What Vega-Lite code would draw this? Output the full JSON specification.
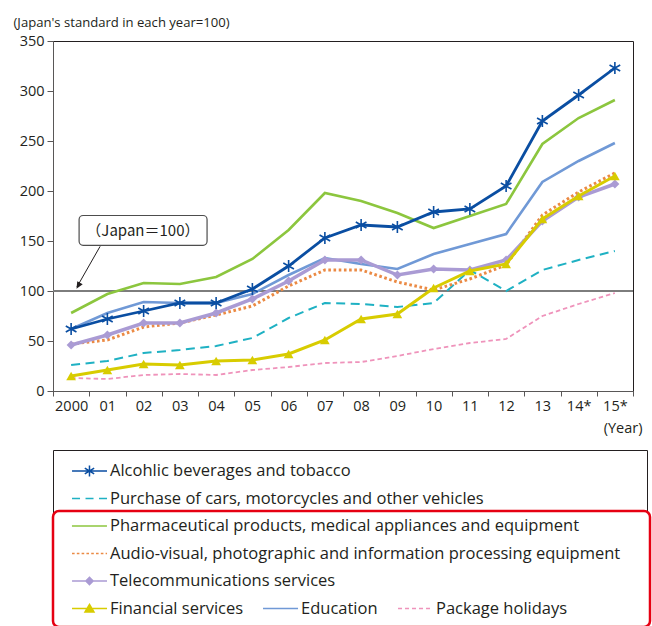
{
  "$schema": "https://vega.github.io/schema/vega-lite/v6.json",
  "width": 580,
  "height": 350,
  "autosize": {"type": "none"},
  "padding": {"left": 53, "top": 41, "right": 19, "bottom": 235},
  "config": {
    "font": "Open Sans",
    "view": {"stroke": "#231f20", "strokeWidth": 1},
    "axis": {"labelFont": "Open Sans", "labelFontSize": 14.5, "labelColor": "#231f20", "titleFont": "Open Sans", "titleColor": "#231f20", "titleFontWeight": "normal", "grid": false, "domainColor": "#595757", "tickColor": "#595757"},
    "legend": {"orient": "none", "padding": 0, "labelFont": "Open Sans", "labelFontSize": 16.5, "labelColor": "#231f20", "labelOffset": 26, "labelLimit": 800, "symbolSize": 324, "symbolType": "M-0.22,0H3.67"}
  },
  "datasets": {
    "alc": [
      {"s": "Alcohlic beverages and tobacco", "t": "2000", "v": 62}, {"s": "Alcohlic beverages and tobacco", "t": "01", "v": 72}, {"s": "Alcohlic beverages and tobacco", "t": "02", "v": 80}, {"s": "Alcohlic beverages and tobacco", "t": "03", "v": 88}, {"s": "Alcohlic beverages and tobacco", "t": "04", "v": 88}, {"s": "Alcohlic beverages and tobacco", "t": "05", "v": 102}, {"s": "Alcohlic beverages and tobacco", "t": "06", "v": 125}, {"s": "Alcohlic beverages and tobacco", "t": "07", "v": 153}, {"s": "Alcohlic beverages and tobacco", "t": "08", "v": 166}, {"s": "Alcohlic beverages and tobacco", "t": "09", "v": 164}, {"s": "Alcohlic beverages and tobacco", "t": "10", "v": 179}, {"s": "Alcohlic beverages and tobacco", "t": "11", "v": 182}, {"s": "Alcohlic beverages and tobacco", "t": "12", "v": 205}, {"s": "Alcohlic beverages and tobacco", "t": "13", "v": 270}, {"s": "Alcohlic beverages and tobacco", "t": "14*", "v": 296}, {"s": "Alcohlic beverages and tobacco", "t": "15*", "v": 323}
    ],
    "car": [
      {"s": "Purchase of cars, motorcycles and other vehicles", "t": "2000", "v": 26}, {"s": "Purchase of cars, motorcycles and other vehicles", "t": "01", "v": 30}, {"s": "Purchase of cars, motorcycles and other vehicles", "t": "02", "v": 38}, {"s": "Purchase of cars, motorcycles and other vehicles", "t": "03", "v": 41}, {"s": "Purchase of cars, motorcycles and other vehicles", "t": "04", "v": 45}, {"s": "Purchase of cars, motorcycles and other vehicles", "t": "05", "v": 53}, {"s": "Purchase of cars, motorcycles and other vehicles", "t": "06", "v": 73}, {"s": "Purchase of cars, motorcycles and other vehicles", "t": "07", "v": 88}, {"s": "Purchase of cars, motorcycles and other vehicles", "t": "08", "v": 87}, {"s": "Purchase of cars, motorcycles and other vehicles", "t": "09", "v": 84}, {"s": "Purchase of cars, motorcycles and other vehicles", "t": "10", "v": 88}, {"s": "Purchase of cars, motorcycles and other vehicles", "t": "11", "v": 121}, {"s": "Purchase of cars, motorcycles and other vehicles", "t": "12", "v": 100}, {"s": "Purchase of cars, motorcycles and other vehicles", "t": "13", "v": 121}, {"s": "Purchase of cars, motorcycles and other vehicles", "t": "14*", "v": 131}, {"s": "Purchase of cars, motorcycles and other vehicles", "t": "15*", "v": 140}
    ],
    "pha": [
      {"s": "Pharmaceutical products, medical appliances and equipment", "t": "2000", "v": 78}, {"s": "Pharmaceutical products, medical appliances and equipment", "t": "01", "v": 97}, {"s": "Pharmaceutical products, medical appliances and equipment", "t": "02", "v": 108}, {"s": "Pharmaceutical products, medical appliances and equipment", "t": "03", "v": 107}, {"s": "Pharmaceutical products, medical appliances and equipment", "t": "04", "v": 114}, {"s": "Pharmaceutical products, medical appliances and equipment", "t": "05", "v": 132}, {"s": "Pharmaceutical products, medical appliances and equipment", "t": "06", "v": 161}, {"s": "Pharmaceutical products, medical appliances and equipment", "t": "07", "v": 198}, {"s": "Pharmaceutical products, medical appliances and equipment", "t": "08", "v": 190}, {"s": "Pharmaceutical products, medical appliances and equipment", "t": "09", "v": 178}, {"s": "Pharmaceutical products, medical appliances and equipment", "t": "10", "v": 163}, {"s": "Pharmaceutical products, medical appliances and equipment", "t": "11", "v": 175}, {"s": "Pharmaceutical products, medical appliances and equipment", "t": "12", "v": 187}, {"s": "Pharmaceutical products, medical appliances and equipment", "t": "13", "v": 247}, {"s": "Pharmaceutical products, medical appliances and equipment", "t": "14*", "v": 273}, {"s": "Pharmaceutical products, medical appliances and equipment", "t": "15*", "v": 291}
    ],
    "aud": [
      {"s": "Audio-visual, photographic and information processing equipment", "t": "2000", "v": 47}, {"s": "Audio-visual, photographic and information processing equipment", "t": "01", "v": 51}, {"s": "Audio-visual, photographic and information processing equipment", "t": "02", "v": 64}, {"s": "Audio-visual, photographic and information processing equipment", "t": "03", "v": 68}, {"s": "Audio-visual, photographic and information processing equipment", "t": "04", "v": 76}, {"s": "Audio-visual, photographic and information processing equipment", "t": "05", "v": 85}, {"s": "Audio-visual, photographic and information processing equipment", "t": "06", "v": 105}, {"s": "Audio-visual, photographic and information processing equipment", "t": "07", "v": 121}, {"s": "Audio-visual, photographic and information processing equipment", "t": "08", "v": 121}, {"s": "Audio-visual, photographic and information processing equipment", "t": "09", "v": 109}, {"s": "Audio-visual, photographic and information processing equipment", "t": "10", "v": 101}, {"s": "Audio-visual, photographic and information processing equipment", "t": "11", "v": 112}, {"s": "Audio-visual, photographic and information processing equipment", "t": "12", "v": 126}, {"s": "Audio-visual, photographic and information processing equipment", "t": "13", "v": 176}, {"s": "Audio-visual, photographic and information processing equipment", "t": "14*", "v": 199}, {"s": "Audio-visual, photographic and information processing equipment", "t": "15*", "v": 218}
    ],
    "tel": [
      {"s": "Telecommunications services", "t": "2000", "v": 46}, {"s": "Telecommunications services", "t": "01", "v": 56}, {"s": "Telecommunications services", "t": "02", "v": 68}, {"s": "Telecommunications services", "t": "03", "v": 68}, {"s": "Telecommunications services", "t": "04", "v": 78}, {"s": "Telecommunications services", "t": "05", "v": 92}, {"s": "Telecommunications services", "t": "06", "v": 110}, {"s": "Telecommunications services", "t": "07", "v": 131}, {"s": "Telecommunications services", "t": "08", "v": 131}, {"s": "Telecommunications services", "t": "09", "v": 116}, {"s": "Telecommunications services", "t": "10", "v": 122}, {"s": "Telecommunications services", "t": "11", "v": 121}, {"s": "Telecommunications services", "t": "12", "v": 131}, {"s": "Telecommunications services", "t": "13", "v": 170}, {"s": "Telecommunications services", "t": "14*", "v": 194}, {"s": "Telecommunications services", "t": "15*", "v": 207}
    ],
    "fin": [
      {"s": "Financial services", "t": "2000", "v": 15}, {"s": "Financial services", "t": "01", "v": 21}, {"s": "Financial services", "t": "02", "v": 27}, {"s": "Financial services", "t": "03", "v": 26}, {"s": "Financial services", "t": "04", "v": 30}, {"s": "Financial services", "t": "05", "v": 31}, {"s": "Financial services", "t": "06", "v": 37}, {"s": "Financial services", "t": "07", "v": 51}, {"s": "Financial services", "t": "08", "v": 72}, {"s": "Financial services", "t": "09", "v": 77}, {"s": "Financial services", "t": "10", "v": 103}, {"s": "Financial services", "t": "11", "v": 120}, {"s": "Financial services", "t": "12", "v": 127}, {"s": "Financial services", "t": "13", "v": 172}, {"s": "Financial services", "t": "14*", "v": 195}, {"s": "Financial services", "t": "15*", "v": 215}
    ],
    "edu": [
      {"s": "Education", "t": "2000", "v": 62}, {"s": "Education", "t": "01", "v": 78}, {"s": "Education", "t": "02", "v": 89}, {"s": "Education", "t": "03", "v": 88}, {"s": "Education", "t": "04", "v": 88}, {"s": "Education", "t": "05", "v": 97}, {"s": "Education", "t": "06", "v": 116}, {"s": "Education", "t": "07", "v": 133}, {"s": "Education", "t": "08", "v": 127}, {"s": "Education", "t": "09", "v": 122}, {"s": "Education", "t": "10", "v": 137}, {"s": "Education", "t": "11", "v": 147}, {"s": "Education", "t": "12", "v": 157}, {"s": "Education", "t": "13", "v": 209}, {"s": "Education", "t": "14*", "v": 230}, {"s": "Education", "t": "15*", "v": 248}
    ],
    "pkg": [
      {"s": "Package holidays", "t": "2000", "v": 13}, {"s": "Package holidays", "t": "01", "v": 12}, {"s": "Package holidays", "t": "02", "v": 16}, {"s": "Package holidays", "t": "03", "v": 17}, {"s": "Package holidays", "t": "04", "v": 16}, {"s": "Package holidays", "t": "05", "v": 21}, {"s": "Package holidays", "t": "06", "v": 24}, {"s": "Package holidays", "t": "07", "v": 28}, {"s": "Package holidays", "t": "08", "v": 29}, {"s": "Package holidays", "t": "09", "v": 35}, {"s": "Package holidays", "t": "10", "v": 42}, {"s": "Package holidays", "t": "11", "v": 48}, {"s": "Package holidays", "t": "12", "v": 52}, {"s": "Package holidays", "t": "13", "v": 75}, {"s": "Package holidays", "t": "14*", "v": 87}, {"s": "Package holidays", "t": "15*", "v": 98}
    ]
  },
  "layer": [
    {
      "data": {"values": [{"ref": 100}]},
      "mark": {"type": "rule", "color": "#7d7d7d", "strokeWidth": 2},
      "encoding": {"y": {"field": "ref", "type": "quantitative", "scale": {"domain": [0, 350], "nice": false}, "axis": null}}
    },
    {
      "encoding": {
        "x": {"field": "t", "type": "ordinal", "sort": null,
          "scale": {"type": "band", "domain": ["2000","01","02","03","04","05","06","07","08","09","10","11","12","13","14*","15*"], "paddingInner": 0, "paddingOuter": 0},
          "axis": {"title": "(Year)", "tickBand": "extent", "labelAngle": 0, "tickSize": 5, "labelPadding": 3, "titleX": 589, "titleY": 37, "titleAlign": "right", "titleBaseline": "middle", "titleFontSize": 14.5, "titleAngle": 0}},
        "y": {"field": "v", "type": "quantitative", "scale": {"domain": [0, 350], "nice": false},
          "axis": {"values": [0, 50, 100, 150, 200, 250, 300, 350], "title": "(Japan's standard in each year=100)", "titleAngle": 0, "titleAlign": "left", "titleBaseline": "middle", "titleX": -40, "titleY": -19, "titleFontSize": 13.1, "tickSize": 6, "labelPadding": 3}}
      },
      "layer": [
        {
          "data": {"name": "pkg"},
          "mark": {"type": "line", "strokeWidth": 1.8, "strokeDash": [4.5, 3]},
          "encoding": {"color": {"field": "s", "type": "nominal", "scale": {"range": ["#ef93bb"]},
            "legend": {"title": null, "orient": "none", "legendX": 337, "legendY": 557.5, "zindex": 4, "symbolDash": [4, 3]}}}
        },
        {
          "data": {"name": "car"},
          "mark": {"type": "line", "strokeWidth": 2, "strokeDash": [9, 5.5]},
          "encoding": {"color": {"field": "s", "type": "nominal", "scale": {"range": ["#1fb1c3"]},
            "legend": {"title": null, "orient": "none", "legendX": 11, "legendY": 447.5, "zindex": 2, "symbolDash": [8, 5.5]}}}
        },
        {
          "data": {"name": "edu"},
          "mark": {"type": "line", "strokeWidth": 2.6},
          "encoding": {"color": {"field": "s", "type": "nominal", "scale": {"range": ["#7099d6"]},
            "legend": {"title": null, "orient": "none", "legendX": 202, "legendY": 557.5, "zindex": 4}}}
        },
        {
          "data": {"name": "pha"},
          "mark": {"type": "line", "strokeWidth": 2.6},
          "encoding": {"color": {"field": "s", "type": "nominal", "scale": {"range": ["#8cc63e"]},
            "legend": {"title": null, "orient": "none", "legendX": 0, "legendY": 470, "padding": 5, "labelOffset": 32,
              "strokeColor": "#e60012", "fillColor": "white", "cornerRadius": 6,
              "symbolType": "M0.44,0H4.33L63.67,10.33", "symbolDash": [35, 3000], "zindex": 3,
              "encode": {"legend": {"update": {"strokeWidth": {"value": 2.5}}}}}}}
        },
        {
          "data": {"name": "aud"},
          "mark": {"type": "line", "strokeWidth": 3, "strokeDash": [2.6, 2.6]},
          "encoding": {"color": {"field": "s", "type": "nominal", "scale": {"range": ["#eb8a44"]},
            "legend": {"title": null, "orient": "none", "legendX": 11, "legendY": 502.5, "zindex": 4, "symbolDash": [2.6, 2.2]}}}
        },
        {
          "data": {"name": "tel"},
          "layer": [
            {
              "mark": {"type": "line", "strokeWidth": 3.5},
              "encoding": {"color": {"field": "s", "type": "nominal", "scale": {"range": ["#aa9bd4"]},
                "legend": {"title": null, "orient": "none", "legendX": 11, "legendY": 530, "zindex": 4,
                  "symbolType": "M-0.22,0H3.67M1.72,-0.4L2.12,0L1.72,0.4L1.32,0Z", "symbolFillColor": "#aa9bd4"}}}
            },
            {"mark": {"type": "point", "shape": "diamond", "filled": true, "size": 80, "color": "#aa9bd4", "opacity": 1}}
          ]
        },
        {
          "data": {"name": "fin"},
          "layer": [
            {
              "mark": {"type": "line", "strokeWidth": 3},
              "encoding": {"color": {"field": "s", "type": "nominal", "scale": {"range": ["#d8cc00"]},
                "legend": {"title": null, "orient": "none", "legendX": 11, "legendY": 557.5, "zindex": 4,
                  "symbolType": "M-0.22,0H3.67M1.72,-0.45L2.22,0.4L1.22,0.4Z", "symbolFillColor": "#d8cc00"}}}
            },
            {"mark": {"type": "point", "shape": "triangle-up", "filled": true, "size": 95, "color": "#d8cc00", "opacity": 1}}
          ]
        },
        {
          "data": {"name": "alc"},
          "layer": [
            {
              "mark": {"type": "line", "strokeWidth": 2.8},
              "encoding": {"color": {"field": "s", "type": "nominal", "scale": {"range": ["#0a4ea2"]},
                "legend": {"title": null, "orient": "none", "legendX": 0, "legendY": 409, "padding": 11,
                  "strokeColor": "#231f20",
                  "symbolType": "M1.72,-0.6V0.6M1.2,-0.33L2.24,0.33M1.2,0.33L2.24,-0.33M-0.22,0H3.67L62.1,13.2",
                  "symbolDash": [35, 3000], "zindex": 1}}}
            },
            {"mark": {"type": "point", "shape": "M0,-1V1M-0.87,-0.5L0.87,0.5M-0.87,0.5L0.87,-0.5", "filled": false, "size": 150, "strokeWidth": 1.6, "color": "#0a4ea2", "opacity": 1}}
          ]
        }
      ],
      "resolve": {"scale": {"color": "independent"}}
    },
    {
      "layer": [
        {
          "data": {"values": [{"u1": 0.72, "u2": 4.25, "v1": 145.7, "v2": 175.5}]},
          "mark": {"type": "rect", "cornerRadius": 4, "fill": "white", "stroke": "#4d4d4d", "strokeWidth": 1.2},
          "encoding": {
            "x": {"field": "u1", "type": "quantitative", "scale": {"domain": [0, 16], "nice": false, "zero": false}, "axis": null},
            "x2": {"field": "u2"},
            "y": {"field": "v1", "type": "quantitative", "scale": {"domain": [0, 350], "nice": false}, "axis": null},
            "y2": {"field": "v2"}
          }
        },
        {
          "data": {"values": [{"u": 2.48, "v": 160.5, "label": "（Japan＝100）"}]},
          "mark": {"type": "text", "font": "Noto Sans CJK JP", "fontSize": 15, "color": "#231f20"},
          "encoding": {
            "x": {"field": "u", "type": "quantitative", "scale": {"domain": [0, 16], "nice": false, "zero": false}, "axis": null},
            "y": {"field": "v", "type": "quantitative", "scale": {"domain": [0, 350], "nice": false}, "axis": null},
            "text": {"field": "label"}
          }
        },
        {
          "data": {"values": [{"u": 1.3, "v": 144.7, "u2": 0.66, "v2": 104}]},
          "mark": {"type": "rule", "color": "#231f20", "strokeWidth": 1},
          "encoding": {
            "x": {"field": "u", "type": "quantitative", "scale": {"domain": [0, 16], "nice": false, "zero": false}, "axis": null},
            "y": {"field": "v", "type": "quantitative", "scale": {"domain": [0, 350], "nice": false}, "axis": null},
            "x2": {"field": "u2"},
            "y2": {"field": "v2"}
          }
        },
        {
          "data": {"values": [{"u": 0.648, "v": 102.2}]},
          "mark": {"type": "point", "shape": "M0,0L-0.45,-1L0.45,-1Z", "angle": 30, "filled": true, "size": 196, "color": "#231f20", "opacity": 1},
          "encoding": {
            "x": {"field": "u", "type": "quantitative", "scale": {"domain": [0, 16], "nice": false, "zero": false}, "axis": null},
            "y": {"field": "v", "type": "quantitative", "scale": {"domain": [0, 350], "nice": false}, "axis": null}
          }
        }
      ]
    }
  ],
  "resolve": {"scale": {"x": "independent", "y": "independent", "color": "independent"}}
}
